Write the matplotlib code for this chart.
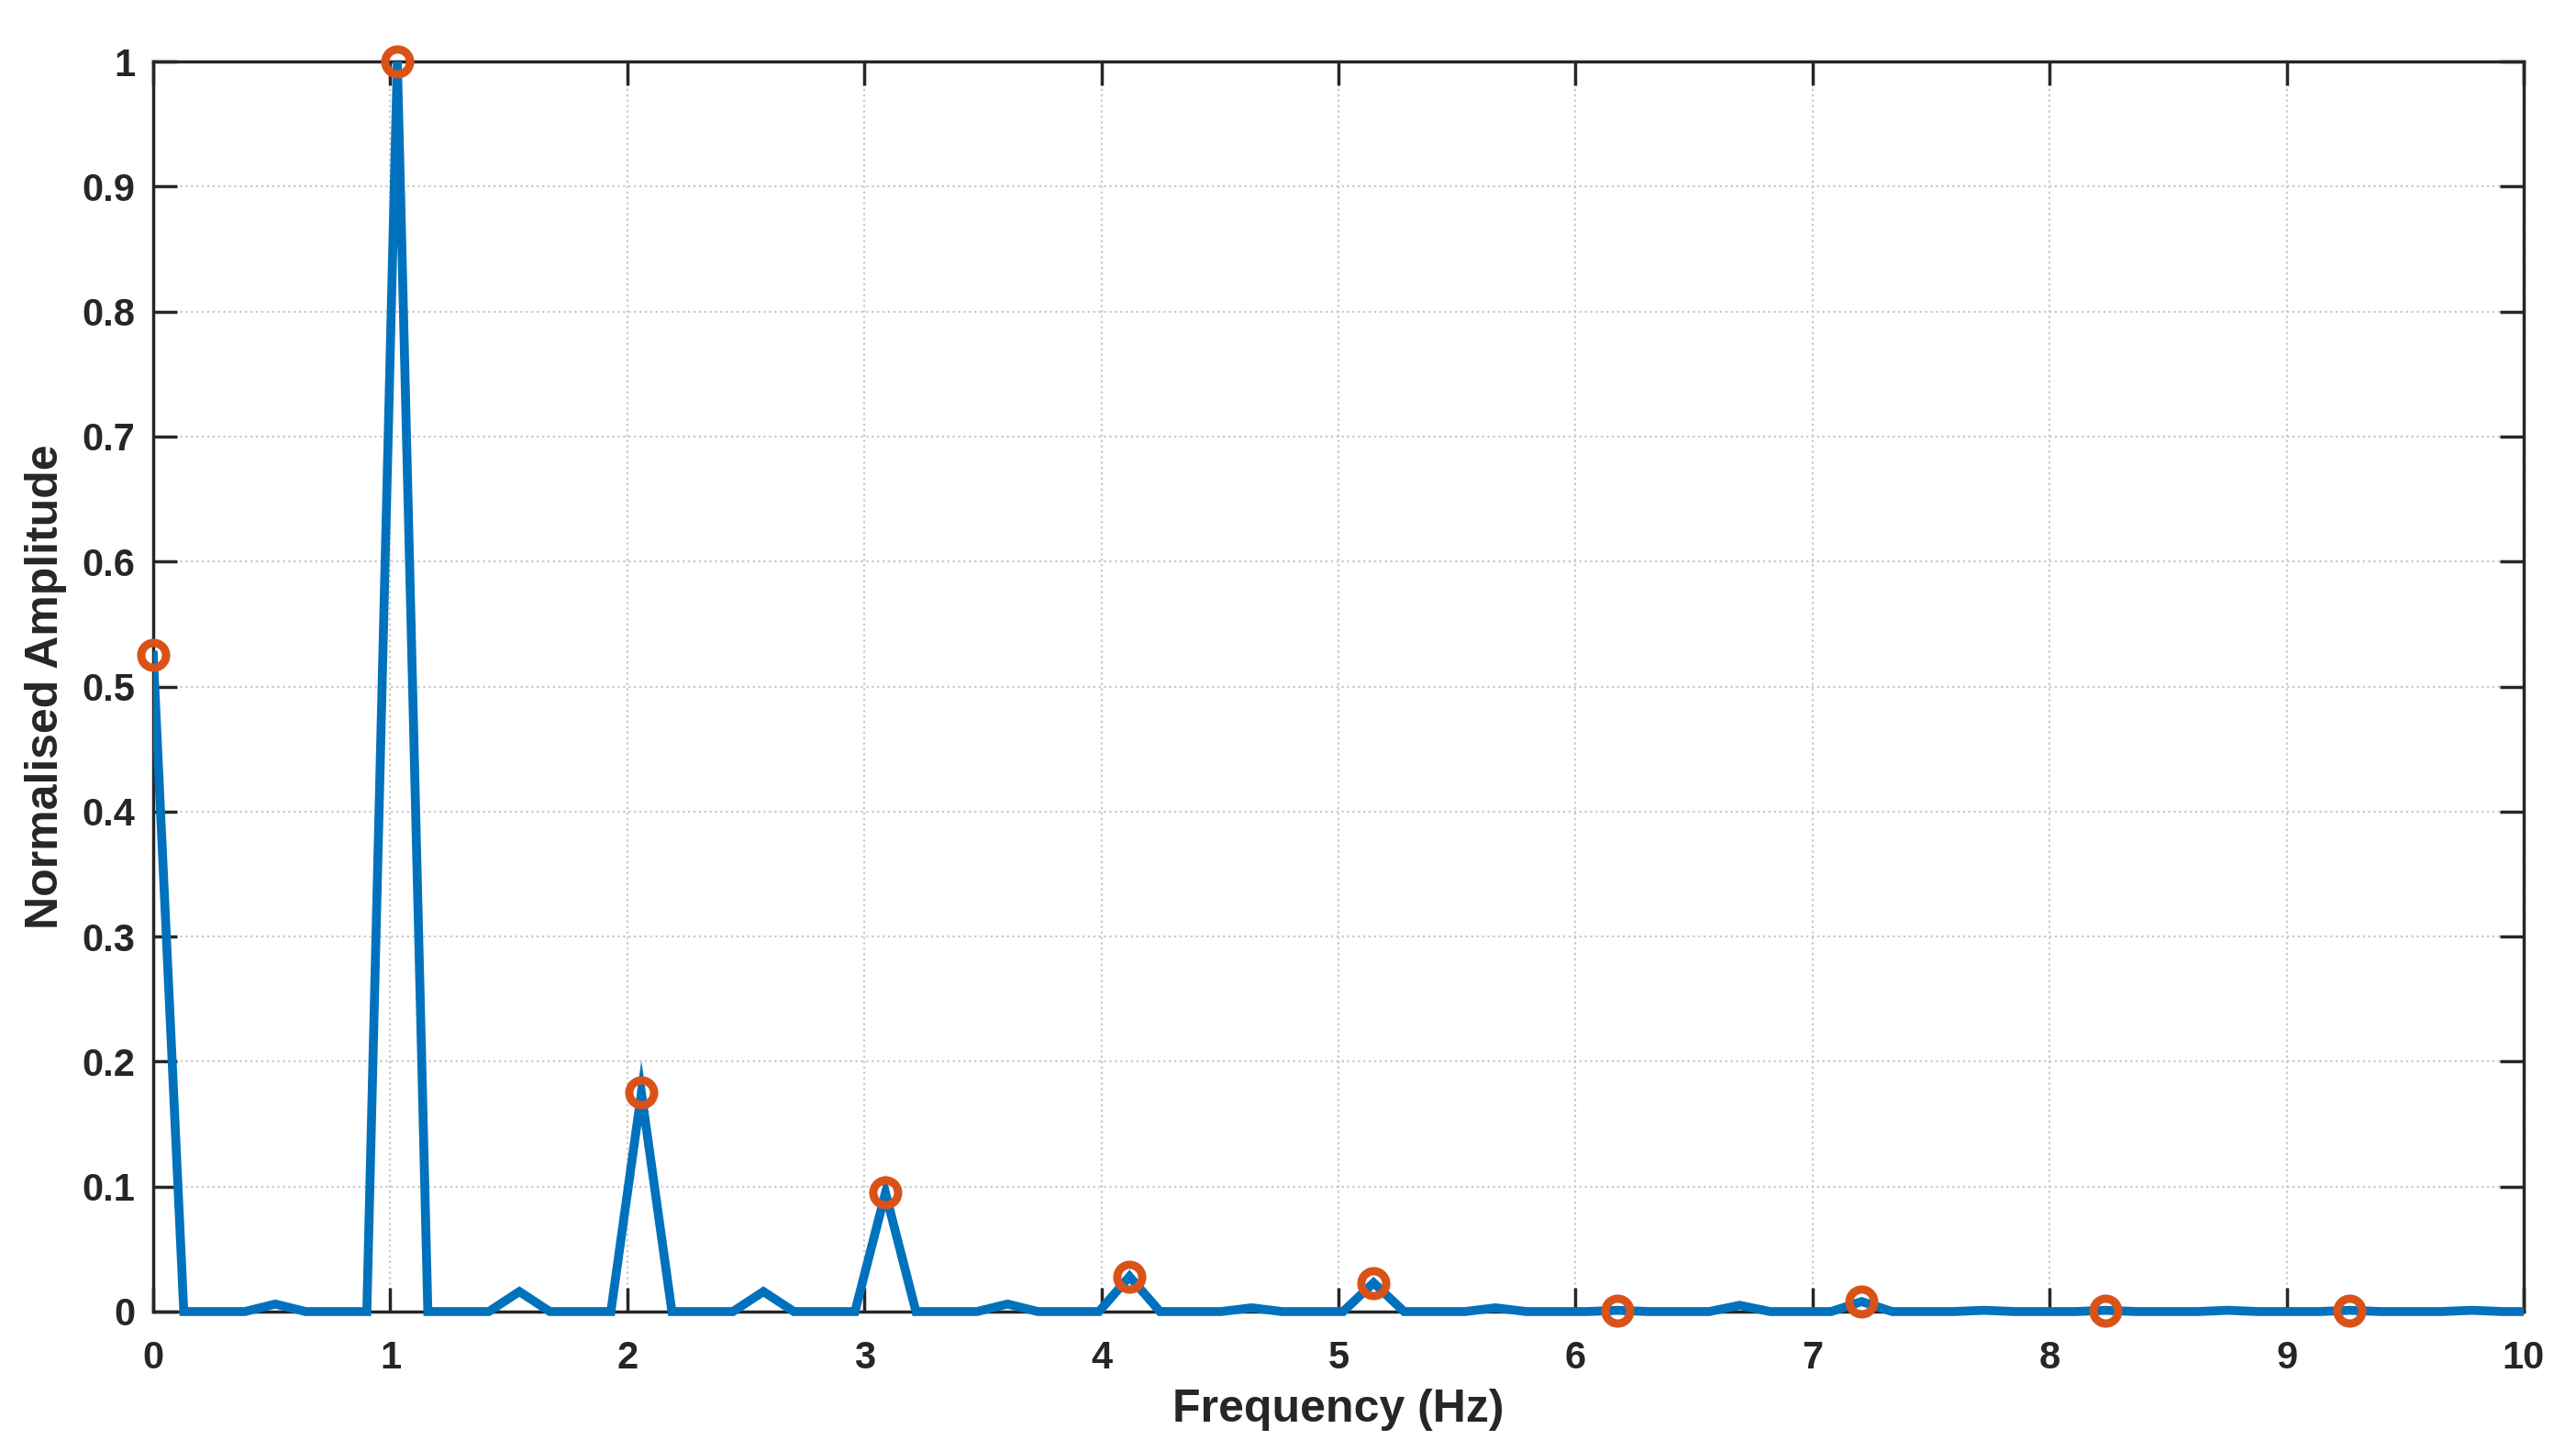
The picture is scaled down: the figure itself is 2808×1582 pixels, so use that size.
"""
Normalised amplitude spectrum with harmonic peaks marked.
"""

import numpy as np
import matplotlib
matplotlib.use("Agg")
import matplotlib.pyplot as plt
from matplotlib.patches import Rectangle

# ---------------------------------------------------------------------------
# Data
# ---------------------------------------------------------------------------
DF = 0.1287  # frequency resolution, Hz
AMPLITUDE = [
    0.525, 0.0, 0.0, 0.0, 0.006, 0.0, 0.0, 0.0,      # 0.00 .. 0.90
    1.000, 0.0, 0.0, 0.0, 0.016, 0.0, 0.0, 0.0,      # 1.03 .. 1.93
    0.175, 0.0, 0.0, 0.0, 0.016, 0.0, 0.0, 0.0,      # 2.06 .. 2.96
    0.095, 0.0, 0.0, 0.0, 0.006, 0.0, 0.0, 0.0,      # 3.09 .. 3.99
    0.028, 0.0, 0.0, 0.0, 0.003, 0.0, 0.0, 0.0,      # 4.12 .. 5.02
    0.023, 0.0, 0.0, 0.0, 0.003, 0.0, 0.0, 0.0,      # 5.15 .. 6.05
    0.001, 0.0, 0.0, 0.0, 0.005, 0.0, 0.0, 0.0,      # 6.18 .. 7.08
    0.008, 0.0, 0.0, 0.0, 0.001, 0.0, 0.0, 0.0,      # 7.21 .. 8.11
    0.001, 0.0, 0.0, 0.0, 0.001, 0.0, 0.0, 0.0,      # 8.24 .. 9.14
    0.001, 0.0, 0.0, 0.0, 0.001, 0.0, 0.0,           # 9.27 .. 10.04
]
FREQ = np.arange(len(AMPLITUDE)) * DF

# harmonic peaks (DC + multiples of the fundamental)
PEAK_IDX = [0, 8, 16, 24, 32, 40, 48, 56, 64, 72]

XTICKS = list(range(0, 11))
YTICKS = [0, 0.1, 0.2, 0.3, 0.4, 0.5, 0.6, 0.7, 0.8, 0.9, 1]
YTICKLABELS = ["0", "0.1", "0.2", "0.3", "0.4", "0.5", "0.6", "0.7", "0.8", "0.9", "1"]

BLUE = "#0072BD"
ORANGE = "#D95319"
INK = "#262626"

plt.rcParams["font.family"] = ["Liberation Sans", "DejaVu Sans"]
plt.rcParams["font.weight"] = "bold"

fig = plt.figure(figsize=(28.08, 15.82), dpi=100)
ax = fig.add_axes([0.0595, 0.0961, 0.9202, 0.8615])

line, = ax.plot(FREQ, AMPLITUDE, color=BLUE, lw=7, solid_joinstyle="miter", zorder=3)
# let the peak spike poke above the top of the box like the original
clip = Rectangle((0, -0.05), 1, 1.2, transform=ax.transAxes, facecolor="none")
line.set_clip_path(clip)

ax.plot(FREQ[PEAK_IDX], np.array(AMPLITUDE)[PEAK_IDX], "o", ms=19.5, mfc="none",
        mec=ORANGE, mew=6.5, clip_on=False, zorder=4)

ax.set_xlim(0, 10)
ax.set_ylim(0, 1)
ax.set_xticks(XTICKS)
ax.set_yticks(YTICKS)
ax.set_yticklabels(YTICKLABELS)

ax.tick_params(direction="in", length=19, width=2.5, colors=INK, labelsize=30,
               top=True, right=True, pad=14)
ax.tick_params(axis="x", pad=22)
for s in ax.spines.values():
    s.set_linewidth(2.5)
    s.set_color(INK)

ax.grid(True, color="#c8c8c8", linestyle=":", lw=1.6, zorder=0)
ax.set_axisbelow(True)

ax.set_xlabel("Frequency (Hz)", fontsize=36, fontweight="bold", color=INK, labelpad=10)
ax.set_ylabel("Normalised Amplitude", fontsize=36, fontweight="bold", color=INK, labelpad=12)

fig.savefig("out.png", dpi=100)
